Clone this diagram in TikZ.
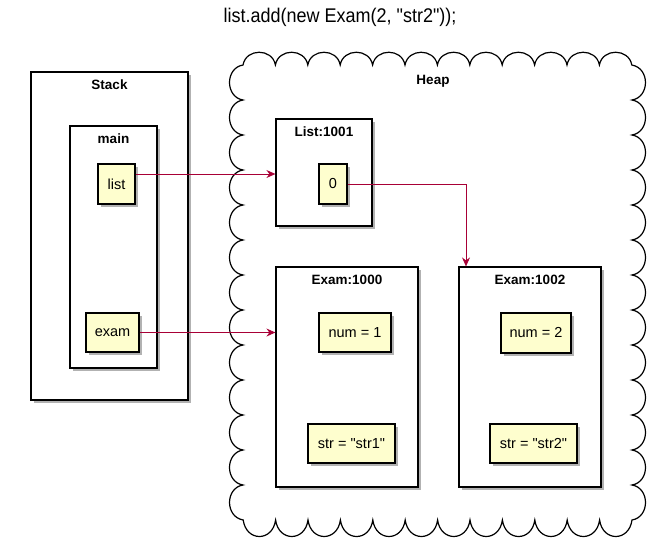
\documentclass[tikz,border=0pt]{standalone}
\usepackage{fontspec}
\setmainfont{Liberation Sans}[Ligatures=TeXOff]
\usetikzlibrary{arrows.meta,shadows}
\definecolor{objfill}{HTML}{FEFECE}
\definecolor{ptrred}{HTML}{A80036}

\begin{document}
\begin{tikzpicture}[x=1pt,y=-1pt,
  frame/.style={draw, line width=1.2pt, fill=white, rectangle, inner sep=0pt,
    drop shadow={shadow xshift=3pt, shadow yshift=-3pt, fill=black, opacity=.3}},
  cell/.style={frame, fill=objfill, font=\fontsize{14.5}{17}\selectfont},
  lbl/.style={anchor=north, yshift=-5pt, font=\bfseries\fontsize{13.5}{16}\selectfont},
  ptr/.style={draw=ptrred, line width=0.9pt, -{Stealth[length=9pt,width=8pt,inset=3pt]}}]
\useasboundingbox (0,0) rectangle (670,557);
\node[font=\fontsize{18}{21}\selectfont, yscale=1.1] (title) at (340,17) {list.add(new Exam(2, "str2"));};

\node[frame, minimum width=157, minimum height=328, label={[lbl]north:Stack}] (stack) at (109.5,236){};
\node[frame, minimum width=87, minimum height=242, label={[lbl]north:main}] (main) at (113.5,247){};
\node[cell, minimum width=37, minimum height=40] (list) at (116.5,184){list};
\node[cell, minimum width=53, minimum height=39] (exam) at (112.5,332.5){exam};

\draw[line width=1.2pt] (243,65)
  \foreach \i in {0,...,11} { .. controls ({243+32.4*\i+3},48) and ({243+32.4*(\i+1)-3},48) .. ({243+32.4*(\i+1)},65) }
  \foreach \i in {0,...,12} { .. controls (650,{65+35*\i+3}) and (650,{65+35*(\i+1)-3}) .. (632,{65+35*(\i+1)}) }
  \foreach \i in {0,...,11} { .. controls ({632-32.4*\i-3},542) and ({632-32.4*(\i+1)+3},542) .. ({632-32.4*(\i+1)},520) }
  \foreach \i in {0,...,12} { .. controls (225,{520-35*\i-3}) and (225,{520-35*(\i+1)+3}) .. (243,{520-35*(\i+1)}) }
  -- cycle;
\node[font=\bfseries\fontsize{13.5}{16}\selectfont] (heap) at (433,81){Heap};

\node[frame, minimum width=96, minimum height=107, label={[lbl]north:List:1001}] (l1001) at (324,172.5){};
\node[cell, minimum width=28, minimum height=40] (zero) at (333,184){0};
\node[frame, minimum width=142, minimum height=220, label={[lbl]north:Exam:1000}] (e1000) at (347,377){};
\node[cell, minimum width=72, minimum height=39] (num1) at (355,332.5){num = 1};
\node[cell, minimum width=87, minimum height=39] (str1) at (351.5,443.5){str = "str1"};
\node[frame, minimum width=142, minimum height=220, label={[lbl]north:Exam:1002}] (e1002) at (530,377){};
\node[cell, minimum width=70, minimum height=40] (num2) at (536,333){num = 2};
\node[cell, minimum width=87, minimum height=39] (str2) at (533.5,443.5){str = "str2"};

\draw[ptr] ([yshift=10pt]list.east) -- ([yshift=10pt]list.east -| l1001.west);
\draw[ptr] (exam.east) -- (exam.east -| e1000.west);
\draw[ptr] (zero.east) -| ([xshift=-64pt]e1002.north);

\end{tikzpicture}
\end{document}
